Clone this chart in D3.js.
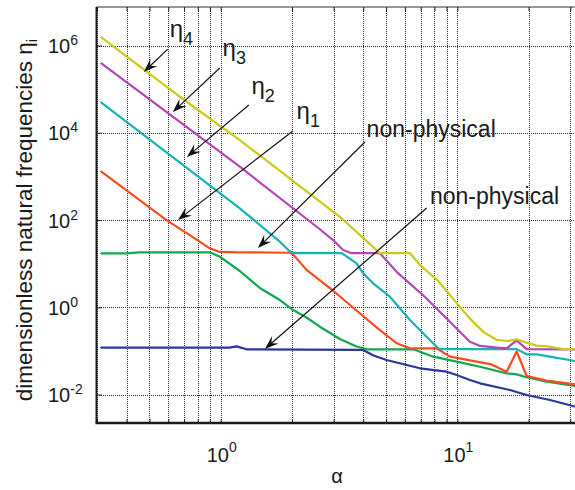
<!DOCTYPE html>
<html>
<head>
<meta charset="utf-8">
<script src="https://cdn.jsdelivr.net/npm/d3@7"></script>
<style>
  body { margin: 0; background: #fff; }
  svg { display: block; }
  text { font-family: "Liberation Sans", Arial, Helvetica, sans-serif; fill: #1a1a1a; }
</style>
</head>
<body>
<svg id="chart" width="575" height="490"></svg>
<script>
// Dimensionless natural frequencies η_i versus α, as [α, η] pairs.
const eta4 = [[0.313,1.54e6],[0.671,6.7e4],[1.204,6.8e3],[2.365,410],[3.19,119],[4.706,17.4],[6.3,17.4],[7.0,9.0],[8.3,4.0],[10.0,1.2],[11.3,0.55],[12.9,0.27],[14.66,0.18],[16.4,0.169],[17.8,0.185],[19.6,0.155],[21.6,0.132],[24.0,0.128],[28.0,0.11],[31.4,0.11]];
const eta3 = [[0.313,3.91e5],[1.204,1.67e3],[2.6,64],[2.985,34.8],[3.29,20.6],[3.57,17.4],[4.706,17.4],[5.54,6.5],[7.3,1.72],[11.3,0.163],[12.47,0.13],[14.66,0.119],[16.16,0.115],[17.81,0.175],[19.63,0.11],[31.4,0.109]];
const eta2 = [[0.313,4.89e4],[1.204,186],[1.778,31.9],[1.95,19.5],[2.05,17.4],[3.25,17.4],[3.75,10.2],[4.0,6.0],[4.406,3.55],[5.188,1.75],[6.305,0.512],[7.41,0.212],[8.3,0.115],[8.44,0.11],[17.81,0.11],[19.63,0.0837],[21.64,0.0837],[24.63,0.0738],[31.4,0.0588]];
const eta1 = [[0.313,1.28e3],[0.59,100],[0.74,45],[0.899,22.5],[0.991,18.6],[1.2,18.2],[1.96,17.8],[2.02,16.5],[2.305,7.2],[2.46,5.5],[2.987,2.4],[3.87,0.73],[4.706,0.30],[5.54,0.15],[6.3,0.115],[8.17,0.115],[9.3,0.0738],[12.07,0.0567],[13.8,0.05],[16.16,0.0334],[17.81,0.097],[19.63,0.0266],[23.85,0.0208],[31.4,0.0172]];
const mode5 = [[0.313,17.3],[0.40,17.3],[0.455,18.2],[0.899,18.2],[0.991,14.5],[1.204,6.79],[1.463,2.77],[1.778,1.47],[2.024,0.867],[2.305,0.584],[2.624,0.359],[3.189,0.188],[3.75,0.126],[4.133,0.109],[6.51,0.109],[7.91,0.0738],[9.93,0.0567],[12.47,0.0435],[16.16,0.0307],[17.81,0.0291],[19.63,0.0249],[23.85,0.0197],[31.4,0.0157]];
const mode6 = [[0.313,0.119],[1.09,0.119],[1.167,0.127],[1.285,0.109],[3.75,0.106],[4.0,0.105],[4.4,0.08],[5.02,0.062],[6.95,0.040],[9.01,0.0334],[9.93,0.0281],[11.3,0.0216],[12.47,0.0181],[16.69,0.0127],[19.63,0.00977],[24.63,0.0075],[31.4,0.00532]];

// Grid / tick positions
const xGrid = [0.3,0.4,0.5,0.6,0.7,0.8,0.9,1,2,3,4,5,6,7,8,9,10,20,30];
const xLabelExps = [0, 1];
const yLabelExps = [-2, 0, 2, 4, 6];

// Curve colours, drawn bottom to top
const series = [
  { data: mode6, color: "#2a36a0" },
  { data: mode5, color: "#10a94e" },
  { data: eta1,  color: "#fa4b1e" },
  { data: eta2,  color: "#14b4b4" },
  { data: eta3,  color: "#b445b4" },
  { data: eta4,  color: "#cbcb14" }
];

// Annotations: label text, label anchor and arrow (tail -> tip), in data units
const annotations = [
  { main: "η", sub: "4", at: [0.609, 1.57e6], from: [0.597, 8.3e5], to: [0.473, 2.47e5] },
  { main: "η", sub: "3", at: [1.018, 5.75e5], from: [0.991, 3.05e5], to: [0.627, 2.99e4] },
  { main: "η", sub: "2", at: [1.349, 7.87e4], from: [1.315, 4.33e4], to: [0.719, 2.79e3] },
  { main: "η", sub: "1", at: [2.092, 2.10e4], from: [2.018, 1.10e4], to: [0.659, 100] },
  { main: "non-physical", sub: "", at: [4.136, 8.0e3], from: [4.07, 6.15e3], to: [1.435, 22.9] },
  { main: "non-physical", sub: "", at: [7.66, 233], from: [7.42, 189], to: [1.536, 0.111] }
];

const svg = d3.select("#chart");
const plotL = 97, plotR = 575, plotT = 7, plotB = 423;

const x = d3.scaleLog().domain([0.3, 31.42]).range([plotL, plotR]);
const y = d3.scaleLog().domain([2.23e-3, 7.64e6]).range([plotB, plotT]);

// Grid lines (dotted)
const grid = svg.append("g").attr("stroke", "#303030").attr("stroke-width", 1)
  .attr("stroke-dasharray", "1,1");
grid.selectAll("line.gx").data(xGrid).join("line").attr("class", "gx")
  .attr("x1", d => Math.round(x(d)) + 0.5).attr("x2", d => Math.round(x(d)) + 0.5)
  .attr("y1", plotT).attr("y2", plotB);
grid.selectAll("line.gy").data(yLabelExps).join("line").attr("class", "gy")
  .attr("x1", plotL).attr("x2", plotR)
  .attr("y1", d => Math.round(y(Math.pow(10, d))) + 0.5)
  .attr("y2", d => Math.round(y(Math.pow(10, d))) + 0.5);

// Inward ticks on top, bottom and left
const axB = svg.append("g").attr("transform", `translate(0,${plotB})`)
  .call(d3.axisBottom(x).tickValues(xGrid).tickSizeInner(-4).tickSizeOuter(0).tickFormat(""));
const axT = svg.append("g").attr("transform", `translate(0,${plotT})`)
  .call(d3.axisTop(x).tickValues(xGrid).tickSizeInner(-4).tickSizeOuter(0).tickFormat(""));
const axL = svg.append("g").attr("transform", `translate(${plotL},0)`)
  .call(d3.axisLeft(y).tickValues(yLabelExps.map(e => Math.pow(10, e))).tickSizeInner(-5).tickSizeOuter(0).tickFormat(""));
[axB, axT, axL].forEach(g => {
  g.select(".domain").remove();
  g.selectAll(".tick line").attr("stroke", "#222").attr("stroke-width", 1);
});

// Curves
const line = d3.line().x(d => x(d[0])).y(d => y(d[1]));
svg.append("g").selectAll("path").data(series).join("path")
  .attr("d", d => line(d.data))
  .attr("fill", "none")
  .attr("stroke", d => d.color)
  .attr("stroke-width", 2.2)
  .attr("stroke-linejoin", "round")
  .attr("stroke-linecap", "round");

// Axis frame
svg.append("line").attr("x1", plotL - 0.5).attr("x2", plotR).attr("y1", plotT).attr("y2", plotT)
  .attr("stroke", "#333").attr("stroke-width", 1.2);
svg.append("line").attr("x1", plotL - 0.5).attr("x2", plotL - 0.5).attr("y1", plotT).attr("y2", plotB)
  .attr("stroke", "#1a1a1a").attr("stroke-width", 2);
svg.append("line").attr("x1", plotL - 1.5).attr("x2", plotR).attr("y1", plotB).attr("y2", plotB)
  .attr("stroke", "#1a1a1a").attr("stroke-width", 2.5);

// X tick labels 10^n
const xl = svg.append("g").selectAll("text").data(xLabelExps).join("text")
  .attr("x", d => x(Math.pow(10, d)) + 1)
  .attr("y", plotB + 39)
  .attr("text-anchor", "middle")
  .attr("font-size", 20);
xl.append("tspan").text("10");
xl.append("tspan").attr("dy", -10).attr("font-size", 14).text(d => d);

// Y tick labels 10^n
const yl = svg.append("g").selectAll("text").data(yLabelExps).join("text")
  .attr("x", 48)
  .attr("y", d => y(Math.pow(10, d)) + 7.5)
  .attr("font-size", 20);
yl.append("tspan").text("10");
yl.append("tspan").attr("dy", -8).attr("font-size", 14).text(d => d);

// Axis titles
svg.append("text")
  .attr("x", (plotL + plotR) / 2 + 1).attr("y", 483)
  .attr("text-anchor", "middle").attr("font-size", 20).text("α");
const yt = svg.append("text")
  .attr("transform", "translate(32,220) rotate(-90)")
  .attr("text-anchor", "middle").attr("font-size", 22.5);
yt.append("tspan").text("dimensionless natural frequencies η");
yt.append("tspan").attr("dy", 5).attr("font-size", 15).text("i");

// Annotation arrows
function arrowHead(x1, y1, x2, y2) {
  const a = Math.atan2(y2 - y1, x2 - x1), L = 14, W = 5;
  const c = Math.cos(a), s = Math.sin(a);
  const p = (u, v) => [x2 + u * c - v * s, y2 + u * s + v * c];
  const pts = [p(0, 0), p(-L, -W), p(-L * 0.62, 0), p(-L, W)];
  return "M" + pts.map(q => q.join(",")).join("L") + "Z";
}
const ann = svg.append("g");
annotations.forEach(a => {
  const x1 = x(a.from[0]), y1 = y(a.from[1]), x2 = x(a.to[0]), y2 = y(a.to[1]);
  const ang = Math.atan2(y2 - y1, x2 - x1);
  ann.append("line")
    .attr("x1", x1).attr("y1", y1)
    .attr("x2", x2 - 8 * Math.cos(ang)).attr("y2", y2 - 8 * Math.sin(ang))
    .attr("stroke", "#111").attr("stroke-width", 1.2);
  ann.append("path").attr("d", arrowHead(x1, y1, x2, y2)).attr("fill", "#111");
  const t = ann.append("text").attr("x", x(a.at[0])).attr("y", y(a.at[1]));
  if (a.sub) {
    t.attr("font-size", 24);
    t.append("tspan").text(a.main);
    t.append("tspan").attr("dy", 8).attr("font-size", 18).text(a.sub);
  } else {
    t.attr("font-size", 23).text(a.main);
  }
});
</script>
</body>
</html>
